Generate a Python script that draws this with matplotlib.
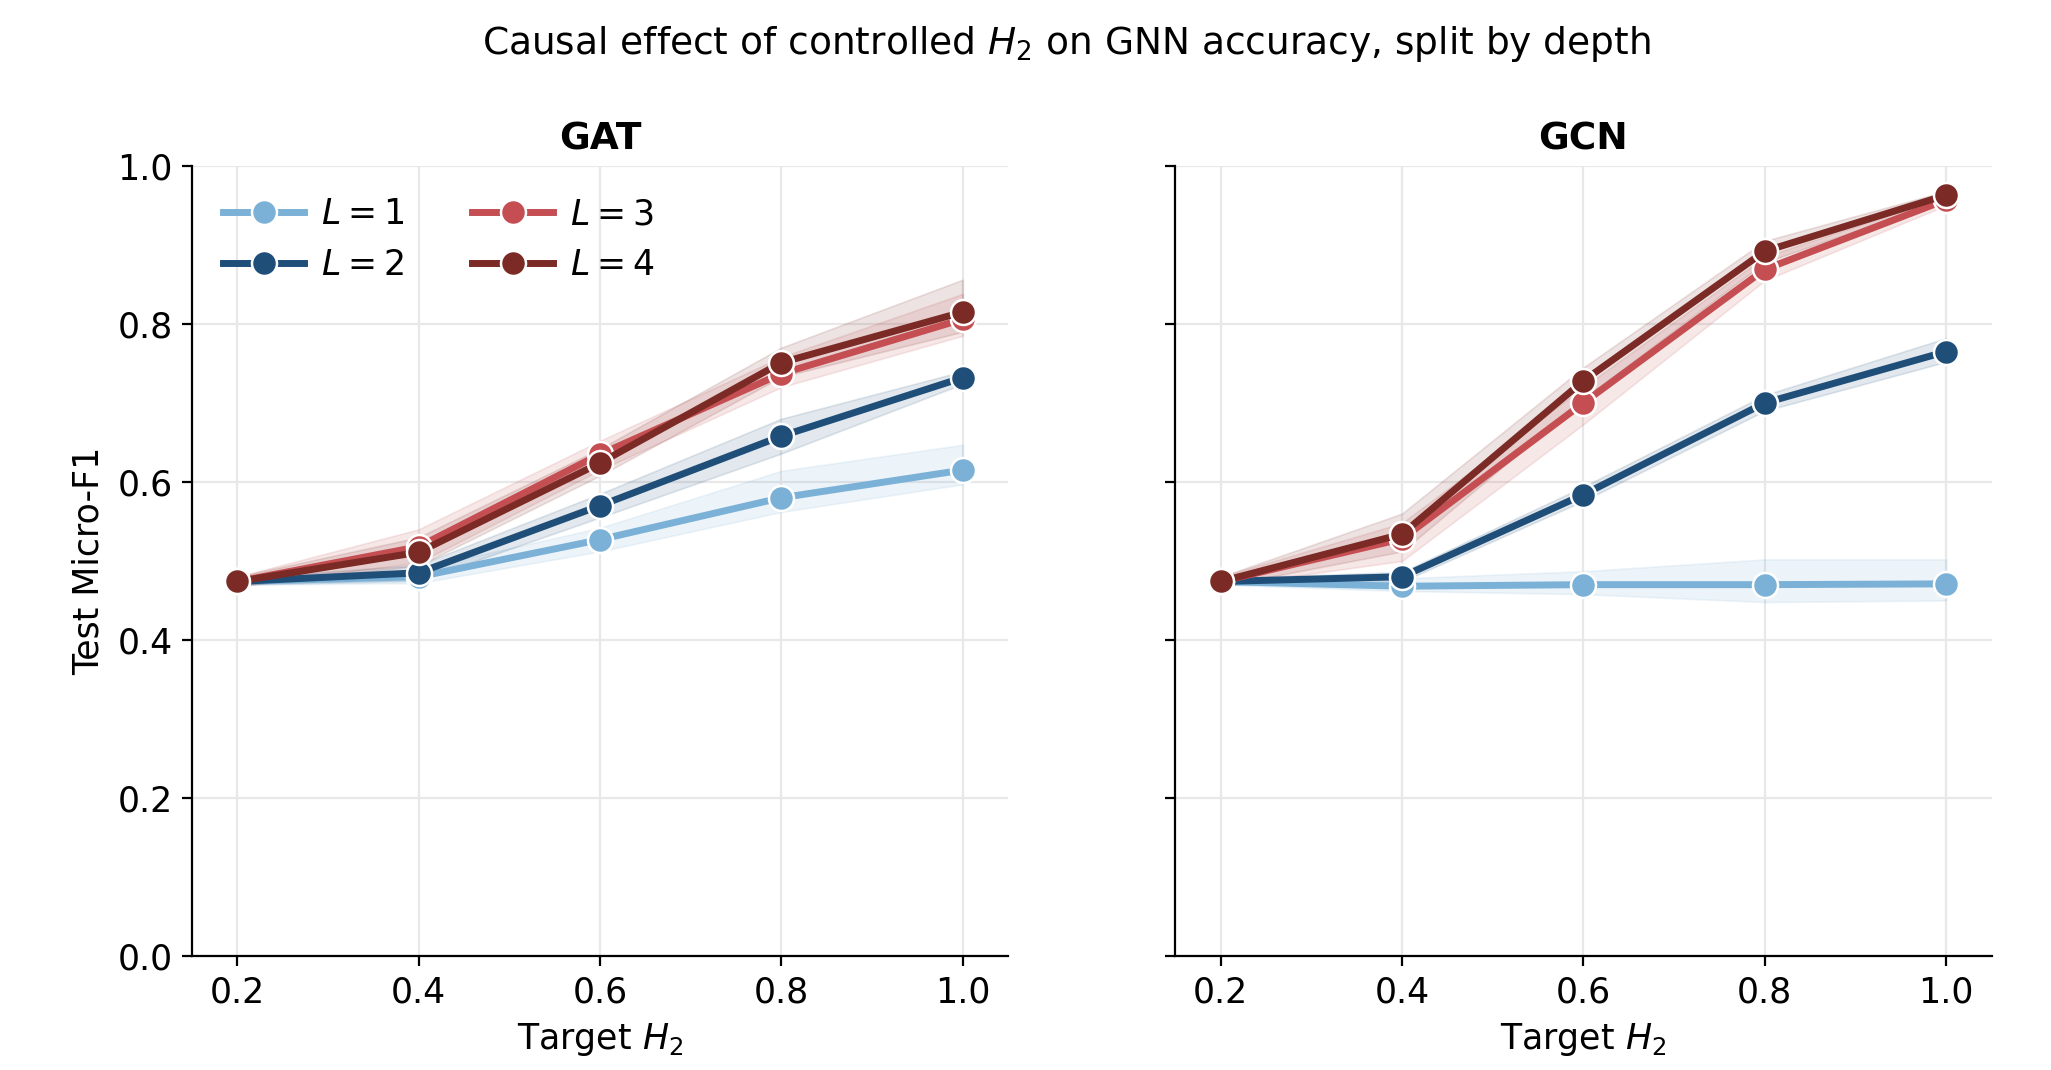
import numpy as np
import matplotlib
matplotlib.use("Agg")
import matplotlib.pyplot as plt

# target H2 values on the x axis
target_h2 = [0.2, 0.4, 0.6, 0.8, 1.0]
depths = [1, 2, 3, 4]
colors = ["#7bb1d6", "#1f4e79", "#c44e52", "#7b2a25"]

# GAT means and band limits, one list per depth
gat_mean = {
    1: [0.474, 0.480, 0.527, 0.580, 0.615],
    2: [0.474, 0.485, 0.570, 0.658, 0.732],
    3: [0.474, 0.518, 0.635, 0.737, 0.806],
    4: [0.474, 0.511, 0.624, 0.751, 0.815],
}
gat_low = {
    1: [0.470, 0.472, 0.512, 0.562, 0.597],
    2: [0.470, 0.475, 0.555, 0.636, 0.724],
    3: [0.468, 0.498, 0.615, 0.720, 0.785],
    4: [0.468, 0.494, 0.608, 0.733, 0.790],
}
gat_high = {
    1: [0.478, 0.490, 0.542, 0.614, 0.647],
    2: [0.478, 0.495, 0.585, 0.680, 0.740],
    3: [0.480, 0.540, 0.652, 0.758, 0.838],
    4: [0.480, 0.530, 0.642, 0.770, 0.856],
}

# GCN means and band limits
gcn_mean = {
    1: [0.474, 0.468, 0.470, 0.470, 0.471],
    2: [0.474, 0.480, 0.584, 0.700, 0.765],
    3: [0.474, 0.528, 0.700, 0.869, 0.957],
    4: [0.474, 0.534, 0.728, 0.892, 0.963],
}
gcn_low = {
    1: [0.470, 0.462, 0.458, 0.448, 0.450],
    2: [0.470, 0.474, 0.576, 0.690, 0.752],
    3: [0.468, 0.500, 0.673, 0.855, 0.950],
    4: [0.468, 0.512, 0.705, 0.878, 0.957],
}
gcn_high = {
    1: [0.478, 0.478, 0.487, 0.502, 0.502],
    2: [0.478, 0.486, 0.594, 0.710, 0.782],
    3: [0.480, 0.548, 0.720, 0.885, 0.962],
    4: [0.480, 0.560, 0.745, 0.905, 0.968],
}

panels = [("GAT", gat_mean, gat_low, gat_high), ("GCN", gcn_mean, gcn_low, gcn_high)]

plt.rcParams["font.family"] = ["DejaVu Sans"]
fig, axes = plt.subplots(1, 2, figsize=(10.255, 5.35), dpi=200, sharey=True)
fig.subplots_adjust(left=0.0936, right=0.971, top=0.845, bottom=0.1065, wspace=0.205)

for ax, (name, mean, low, high) in zip(axes, panels):
    for d, c in zip(depths, colors):
        ax.fill_between(target_h2, low[d], high[d], color=c, alpha=0.13, linewidth=0.6)
        ax.plot(target_h2, mean[d], color=c, lw=2.5, marker="o", markersize=9,
                markeredgecolor="white", markeredgewidth=0.9, label=f"$L = {d}$")
    ax.set_title(name, fontsize=13.5, fontweight="bold")
    ax.set_xlim(0.15, 1.05)
    ax.set_ylim(0.0, 1.0)
    ax.set_xticks(target_h2)
    ax.set_yticks([0.0, 0.2, 0.4, 0.6, 0.8, 1.0])
    ax.grid(True, color="#e8e8e8", linewidth=0.8)
    ax.set_axisbelow(True)
    ax.spines["top"].set_visible(False)
    ax.spines["right"].set_visible(False)
    ax.tick_params(labelsize=12.5)
    ax.set_xlabel("Target $H_2$", fontsize=12.5)

axes[0].set_ylabel("Test Micro-F1", fontsize=12.5)
axes[0].legend(ncol=2, frameon=False, loc="upper left", fontsize=12.5,
               handlelength=2.33, handletextpad=0.5, columnspacing=1.95, labelspacing=0.5)
fig.suptitle("Causal effect of controlled $H_2$ on GNN accuracy, split by depth",
             fontsize=13.5, x=0.52, y=0.978)

fig.savefig("out.png", dpi=200)
